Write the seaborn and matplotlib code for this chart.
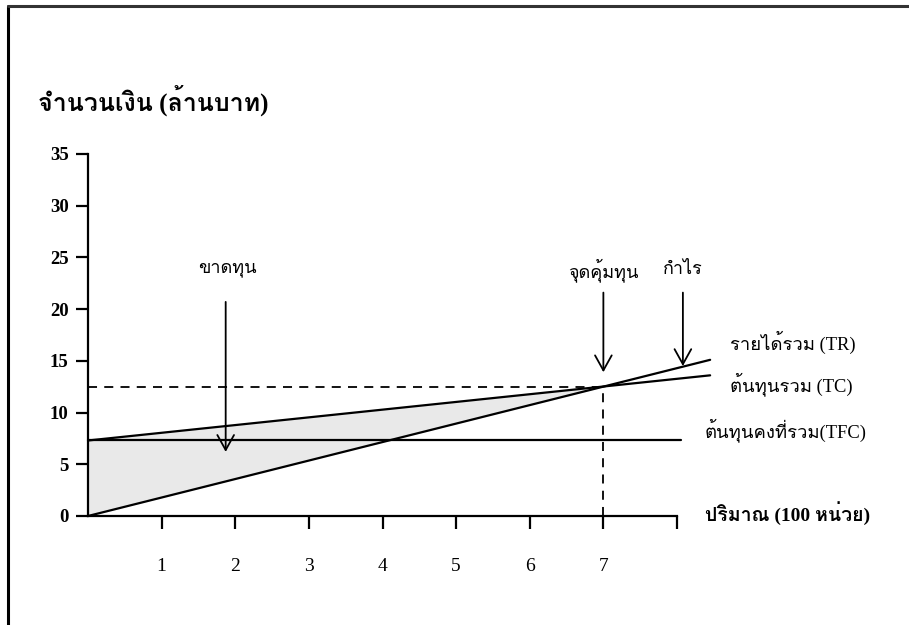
import numpy as np
import pandas as pd
import matplotlib
matplotlib.use("Agg")
import matplotlib.pyplot as plt
import seaborn as sns
from matplotlib import font_manager
from matplotlib.ft2font import FT2Font
from matplotlib.lines import Line2D

# ---------------- data ----------------
line_q = [0.0, 8.45]          # quantity (100 units) at line ends
tr_vals = [0.0, 15.1]         # total revenue
tc_vals = [7.3, 13.6]         # total cost
tfc_q = [0.0, 8.05]
tfc_vals = [7.3, 7.3]         # total fixed cost
be_q = 7.0                    # break-even quantity
be_val = 12.5                 # break-even value
x_ticks = [1, 2, 3, 4, 5, 6, 7, 8]
x_tick_labels = ["1", "2", "3", "4", "5", "6", "7", ""]
y_ticks = [0, 5, 10, 15, 20, 25, 30, 35]

ylabel_text = "จำนวนเงิน (ล้านบาท)"
xlabel_text = "ปริมาณ (100 หน่วย)"
loss_text = "ขาดทุน"
be_text = "จุดคุ้มทุน"
profit_text = "กำไร"
tr_text = "รายได้รวม (TR)"
tc_text = "ต้นทุนรวม (TC)"
tfc_text = "ต้นทุนคงที่รวม(TFC)"

# ---------------- fonts ----------------
sns.set_theme(style="white")

def has_thai(path):
    try:
        return FT2Font(path).get_char_index(ord("จ")) != 0
    except Exception:
        return False

thai_fonts = []
for fe in font_manager.fontManager.ttflist:
    if fe.name not in thai_fonts and has_thai(fe.fname):
        thai_fonts.append(fe.name)

fam = ["Liberation Serif"] + thai_fonts + ["DejaVu Serif"]
plt.rcParams["font.family"] = fam
plt.rcParams["axes.unicode_minus"] = False
plt.rcParams["text.color"] = "black"
plt.rcParams["xtick.color"] = "black"
plt.rcParams["ytick.color"] = "black"
plt.rcParams["xtick.bottom"] = True
plt.rcParams["ytick.left"] = True

# ---------------- figure ----------------
fig = plt.figure(figsize=(9.09, 6.25), dpi=100)
ax = fig.add_axes([88 / 909, 109 / 625, (677 - 88) / 909, (471 - 109) / 625])

lines_df = pd.DataFrame({
    "q": line_q * 2 + tfc_q,
    "value": tr_vals + tc_vals + tfc_vals,
    "series": ["TR"] * 2 + ["TC"] * 2 + ["TFC"] * 2,
})
sns.lineplot(data=lines_df, x="q", y="value", units="series", estimator=None,
             color="black", linewidth=1.6, ax=ax, legend=False, clip_on=False)

# loss area between TR and TC
ax.fill_between([0, be_q], [tr_vals[0], be_val], [tc_vals[0], be_val],
                color="#e9e9e9", zorder=0, linewidth=0)

# break-even dashed guides
ax.plot([0, be_q], [be_val, be_val], color="black", linestyle=(0, (5, 4)), linewidth=1.3)
ax.plot([be_q, be_q], [0, be_val], color="black", linestyle=(0, (5, 4)), linewidth=1.3)

# arrows
arrow_kw = dict(arrowstyle="->,head_width=0.5,head_length=0.9", color="black",
                linewidth=1.3, shrinkA=0, shrinkB=0)
ax.annotate("", xy=(1.87, 6.2), xytext=(1.87, 20.7), arrowprops=arrow_kw,
            annotation_clip=False)
ax.annotate("", xy=(be_q, 13.9), xytext=(be_q, 21.6), arrowprops=arrow_kw,
            annotation_clip=False)
ax.annotate("", xy=(8.08, 14.5), xytext=(8.08, 21.6), arrowprops=arrow_kw,
            annotation_clip=False)

ax.text(1.9, 23.9, loss_text, ha="center", va="center", fontsize=13, clip_on=False)
ax.text(be_q, 23.8, be_text, ha="center", va="center", fontsize=13, clip_on=False)
ax.text(8.08, 23.8, profit_text, ha="center", va="center", fontsize=13, clip_on=False)

ax.text(8.72, 16.8, tr_text, ha="left", va="center", fontsize=13.3, clip_on=False)
ax.text(8.72, 12.8, tc_text, ha="left", va="center", fontsize=13.3, clip_on=False)
ax.text(8.38, 8.3, tfc_text, ha="left", va="center", fontsize=13.3, clip_on=False)
ax.text(8.38, 0.3, xlabel_text, ha="left", va="center", fontsize=14,
        fontweight="bold", clip_on=False)

fig.text(38 / 909, 1 - 100 / 625, ylabel_text, ha="left", va="center",
         fontsize=18, fontweight="bold")

# axes styling
ax.set_xlim(0, 8)
ax.set_ylim(0, 35)
ax.set_xticks(x_ticks)
ax.set_xticklabels(x_tick_labels, fontsize=14)
ax.set_yticks(y_ticks)
ax.set_yticklabels([str(v) for v in y_ticks], fontsize=13.5, fontweight="bold")
ax.set_xlabel("")
ax.set_ylabel("")
for s in ["top", "right"]:
    ax.spines[s].set_visible(False)
for s in ["left", "bottom"]:
    ax.spines[s].set_color("black")
    ax.spines[s].set_linewidth(1.6)
ax.tick_params(axis="x", direction="out", length=9, width=1.6, color="black",
               pad=21, bottom=True)
ax.tick_params(axis="y", direction="out", length=9, width=1.6, color="black",
               pad=5, left=True)
ax.set_facecolor("white")

# scan frame lines
fig.add_artist(Line2D([8 / 909, 8 / 909], [0, 1 - 6 / 625], color="black", linewidth=2.2))
fig.add_artist(Line2D([8 / 909, 1], [1 - 6 / 625, 1 - 6 / 625], color="#333333", linewidth=2.2))

fig.savefig("out.png", dpi=100, facecolor="white")
